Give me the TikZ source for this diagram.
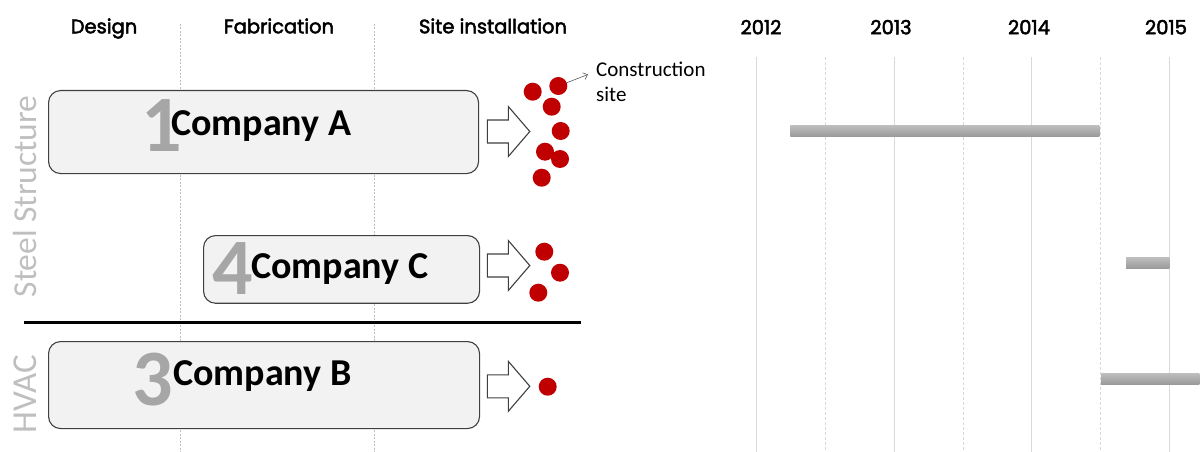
\documentclass[tikz,border=0pt]{standalone}
\usepackage{fontspec}
\setmainfont{Carlito}
\newfontfamily\geofont{Poppins}[FakeBold=2.5]
\usetikzlibrary{arrows.meta}

\definecolor{boxfill}{HTML}{F2F2F2}
\definecolor{boxline}{HTML}{404040}
\definecolor{digitgray}{HTML}{A6A6A6}
\definecolor{sidegray}{HTML}{BFBFBF}
\definecolor{dotred}{HTML}{C00000}
\definecolor{gridgray}{HTML}{D9D9D9}
\definecolor{phasegray}{HTML}{BFBFBF}
\definecolor{barlight}{HTML}{BDBDBD}
\definecolor{bardark}{HTML}{999999}

\tikzset{
  hdr/.style={font=\geofont\fontsize{19.5}{20}\selectfont, anchor=base, inner sep=0pt},
  cobox/.style={draw=boxline, fill=boxfill, line width=1.1pt, rounded corners=12pt,
                anchor=north west, inner sep=0pt},
  digit/.style={font=\fontsize{80}{80}\selectfont\bfseries, text=digitgray, anchor=base, inner sep=0pt},
  coname/.style={font=\fontsize{38}{38}\selectfont\bfseries, anchor=base west, inner sep=0pt},
  dot/.style={circle, fill=dotred, minimum size=18pt, inner sep=0pt},
  side/.style={text=sidegray, rotate=90, inner sep=0pt},
  phaseline/.style={draw=phasegray, line width=0.6pt, dash pattern=on 2pt off 1.5pt},
  gridsolid/.style={draw=gridgray, line width=1.2pt},
  griddash/.style={draw=gridgray, line width=0.8pt, dash pattern=on 3pt off 2pt},
  divider/.style={draw=black, line width=3.3pt},
  arrowline/.style={draw=boxline, fill=white, line width=1.1pt, line join=miter},
  pointer/.style={draw=black!65, line width=0.6pt, -{Straight Barb[length=4pt,width=7pt]}},
  bar/.style={top color=barlight, bottom color=bardark},
  blockarrow/.pic={
    \path[arrowline] (0,-11.5) -- (21,-11.5) -- (21,-25) -- (42.5,0)
      -- (21,25) -- (21,11.5) -- (0,11.5) -- cycle;
  }
}

\begin{document}
\begin{tikzpicture}[x=1pt,y=-1pt]
\useasboundingbox (0,0) rectangle (1200,452);

% phase separators
\draw[phaseline] (180,24) -- (180,452);
\draw[phaseline] (374,24) -- (374,452);

% timeline grid
\foreach \gx in {756.7,894.3,1031.3,1169.3} \draw[gridsolid] (\gx,57) -- (\gx,452);
\foreach \gx in {825.7,963,1100} \draw[griddash] (\gx,57) -- (\gx,452);

% column headings
\node[hdr] (hdesign) at (104,33.3) {Design};
\node[hdr] (hfab) at (279,33.3) {Fabrication};
\node[hdr] (hsite) at (493,33.3) {Site installation};
\node[hdr] (y12) at (761,34.3) {2012};
\node[hdr] (y13) at (891,34.3) {2013};
\node[hdr] (y14) at (1029,34.3) {2014};
\node[hdr] (y15) at (1166,34.3) {2015};

% trade labels
\node[side, font=\fontsize{33.5}{34}\selectfont] (steel) at (25,196.5) {Steel Structure};
\node[side, font=\fontsize{35}{35}\selectfont] (hvac) at (25,394) {HVAC};

% company boxes
\node[cobox, minimum width=430pt, minimum height=83pt] (boxA) at (48,90) {};
\node[cobox, minimum width=276pt, minimum height=67.7pt] (boxC) at (203,235) {};
\node[cobox, minimum width=431pt, minimum height=87pt] (boxB) at (48,341) {};

\node[digit] (n1) at (162,151) {1};
\node[coname] (coA) at (171,135) {Company A};
\node[digit] (n4) at (232.5,294) {4};
\node[coname] (coC) at (251,278) {Company C};
\node[digit] (n3) at (152.5,405) {3};
\node[coname] (coB) at (173,385) {Company B};

% divider between trades
\coordinate (divL) at (24,322.3);
\coordinate (divR) at (581,322.3);
\draw[divider] (divL) -- (divR);

% delivery arrows
\pic (arrA) at (487.3,131.5) {blockarrow};
\pic (arrC) at (487.3,265.5) {blockarrow};
\pic (arrB) at (487.3,386.3) {blockarrow};

% site deliveries
\node[dot] (a1) at (532.7,91.7) {};
\node[dot] (a2) at (558.3,86) {};
\node[dot] (a3) at (551.7,106.7) {};
\node[dot] (a4) at (560.7,131) {};
\node[dot] (a5) at (545,151.7) {};
\node[dot] (a6) at (560,159) {};
\node[dot] (a7) at (541.7,177.7) {};
\node[dot] (c1) at (544.3,251.7) {};
\node[dot] (c2) at (560,272.7) {};
\node[dot] (c3) at (538.3,292.7) {};
\node[dot] (b1) at (547.7,386.7) {};

% construction site callout
\node[font=\fontsize{21}{25}\selectfont, align=left, anchor=north west, inner sep=0pt]
  (csite) at (596,61.5) {Construction\\site};
\coordinate (ctip) at (588,74.5);
\draw[pointer] (a2) -- (ctip);

% schedule bars
\shade[bar] (790.3,125.7) rectangle (1099.3,136.7);
\shade[bar] (1126,257.7) rectangle (1169.3,268.7);
\shade[bar] (1101,373.3) rectangle (1199.3,384.3);
\end{tikzpicture}
\end{document}
